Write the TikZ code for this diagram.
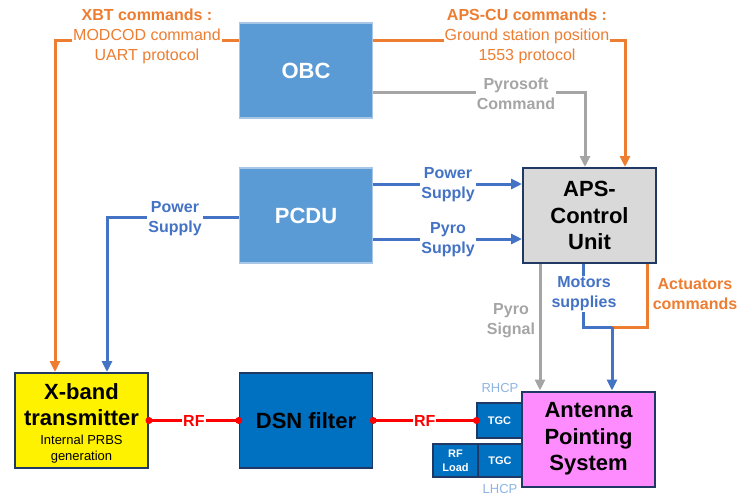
\documentclass[tikz,border=0pt]{standalone}
\usepackage{fontspec}
\setmainfont{Liberation Sans}
\usetikzlibrary{arrows.meta}

\definecolor{naranja}{HTML}{ED7D31}
\definecolor{azul}{HTML}{4472C4}
\definecolor{gris}{HTML}{A5A5A5}
\definecolor{celeste}{HTML}{5B9BD5}
\definecolor{bordeceleste}{HTML}{A8C6E6}
\definecolor{azuloscuro}{HTML}{0070C0}
\definecolor{marino}{HTML}{1F3864}
\definecolor{rosa}{HTML}{FF8CFF}
\definecolor{grisclaro}{HTML}{D9D9D9}
\definecolor{polar}{HTML}{8EB4E3}

\tikzset{
  bloque/.style={rectangle, minimum width=133pt, minimum height=95pt, inner sep=0pt, align=center, font=\bfseries\fontsize{22}{26.5}\selectfont},
  tgcbox/.style={rectangle, fill=azuloscuro, draw=marino, line width=1.2pt, inner sep=0pt, text=white, align=center, font=\bfseries\fontsize{11}{14}\selectfont},
  linea/.style={line width=3pt},
  flecha/.style={line width=3pt, -{Triangle[length=11pt,width=10pt]}},
  etiqueta/.style={fill=white, inner sep=1pt, align=center, font=\bfseries\fontsize{16}{20}\selectfont},
  rf/.style={red, line width=2.5pt},
}

\begin{document}
\begin{tikzpicture}[x=1pt, y=-1pt]
\useasboundingbox (0,0) rectangle (740,499);

%Bloques
\node[bloque, fill=celeste, draw=bordeceleste, line width=1.2pt, text=white] (OBC) at (306,70.5) {OBC};
\node[bloque, fill=celeste, draw=bordeceleste, line width=1.2pt, text=white] (PCDU) at (306,215.5) {PCDU};
\node[bloque, fill=grisclaro, draw=marino, line width=2pt] (APSCU) at (589.5,215.5) {APS-\\Control\\Unit};
\node[bloque, fill=yellow, draw=marino, line width=2pt] (XBT) at (81.5,420.5) {};
\node[font=\bfseries\fontsize{22}{26}\selectfont, align=center] (XBTtitulo) at (81.5,405) {X-band\\transmitter};
\node[font=\fontsize{13}{16}\selectfont, align=center] (XBTnota) at (81.5,449) {Internal PRBS\\generation};
\node[bloque, fill=azuloscuro, draw=marino, line width=1.5pt] (DSN) at (306,420.5) {DSN filter};

%Antena
\node[tgcbox, minimum width=45pt, minimum height=35pt] (TGC1) at (499.5,420.5) {TGC};
\node[tgcbox, minimum width=44pt, minimum height=33pt] (TGC2) at (500,460.5) {TGC};
\node[tgcbox, minimum width=45pt, minimum height=33pt, font=\bfseries\fontsize{11}{14}\selectfont] (RFload) at (455.5,460.5) {RF\\Load};
\node[bloque, fill=rosa, draw=marino, line width=2pt] (APS) at (588.5,439) {Antenna\\Pointing\\System};
\node[text=polar, font=\fontsize{13}{15}\selectfont] (RHCP) at (500,388) {RHCP};
\node[text=polar, font=\fontsize{13}{15}\selectfont] (LHCP) at (500,489) {LHCP};

%Comandos OBC
\coordinate (cxbt) at (55,40);
\coordinate (capscu) at (625,40);
\coordinate (cpyro) at (585,92);
\draw[flecha, naranja] (OBC.west |- cxbt) -- (cxbt) -- (cxbt |- XBT.north);
\draw[flecha, naranja] (OBC.east |- capscu) -- (capscu) -- (capscu |- APSCU.north);
\draw[flecha, gris] (OBC.east |- cpyro) -- (cpyro) -- (cpyro |- APSCU.north);

%Alimentacion PCDU
\coordinate (cpw) at (448,184);
\coordinate (cpy) at (448,239);
\coordinate (cxps) at (107,217);
\draw[flecha, azul] (PCDU.east |- cpw) -- (APSCU.west |- cpw);
\draw[flecha, azul] (PCDU.east |- cpy) -- (APSCU.west |- cpy);
\draw[flecha, azul] (PCDU.west |- cxps) -- (cxps) -- (cxps |- XBT.north);

%Salidas APS-CU
\coordinate (cps) at (540,320);
\coordinate (cms) at (583,327);
\coordinate (cac) at (647,327);
\coordinate (cjn) at (612,327);
\draw[flecha, gris] (APSCU.south -| cps) -- (APS.north -| cps);
\draw[linea, azul] (APSCU.south -| cms) -- (cms) -- (cjn);
\draw[linea, naranja] (APSCU.south -| cac) -- (cac) -- (cjn);
\draw[flecha, azul] (cjn) -- (cjn |- APS.north);

%RF
\draw[rf] (XBT.east) -- node[etiqueta, text=red] (rf1) {RF} (DSN.west);
\draw[rf] (DSN.east) -- node[etiqueta, text=red] (rf2) {RF} (TGC1.west);
\fill[red] (XBT.east) circle (3.5pt);
\fill[red] (DSN.west) circle (3.5pt);
\fill[red] (DSN.east) circle (3.5pt);
\fill[red] (TGC1.west) circle (3.5pt);

%Etiquetas
\node[etiqueta, text=naranja, font=\fontsize{16}{20}\selectfont] (lxbt) at (147,36) {\textbf{XBT commands :}\\MODCOD command\\UART protocol};
\node[etiqueta, text=naranja, font=\fontsize{16}{20}\selectfont] (lapscu) at (527,36) {\textbf{APS-CU commands :}\\Ground station position\\1553 protocol};
\node[etiqueta, text=gris] (lpyrosoft) at (516,93.5) {Pyrosoft\\Command};
\node[etiqueta, text=azul] (lpw) at (448,185) {Power\\Supply};
\node[etiqueta, text=azul] (lpy) at (448,240) {Pyro\\Supply};
\node[etiqueta, text=azul] (lxps) at (175,219) {Power\\Supply};
\node[etiqueta, text=gris, fill=none] (lps) at (511,321) {Pyro\\Signal};
\node[etiqueta, text=azul] (lms) at (584,294) {Motors\\supplies};
\node[etiqueta, text=naranja, fill=none] (lac) at (695,294) {Actuators\\commands};
\end{tikzpicture}
\end{document}
